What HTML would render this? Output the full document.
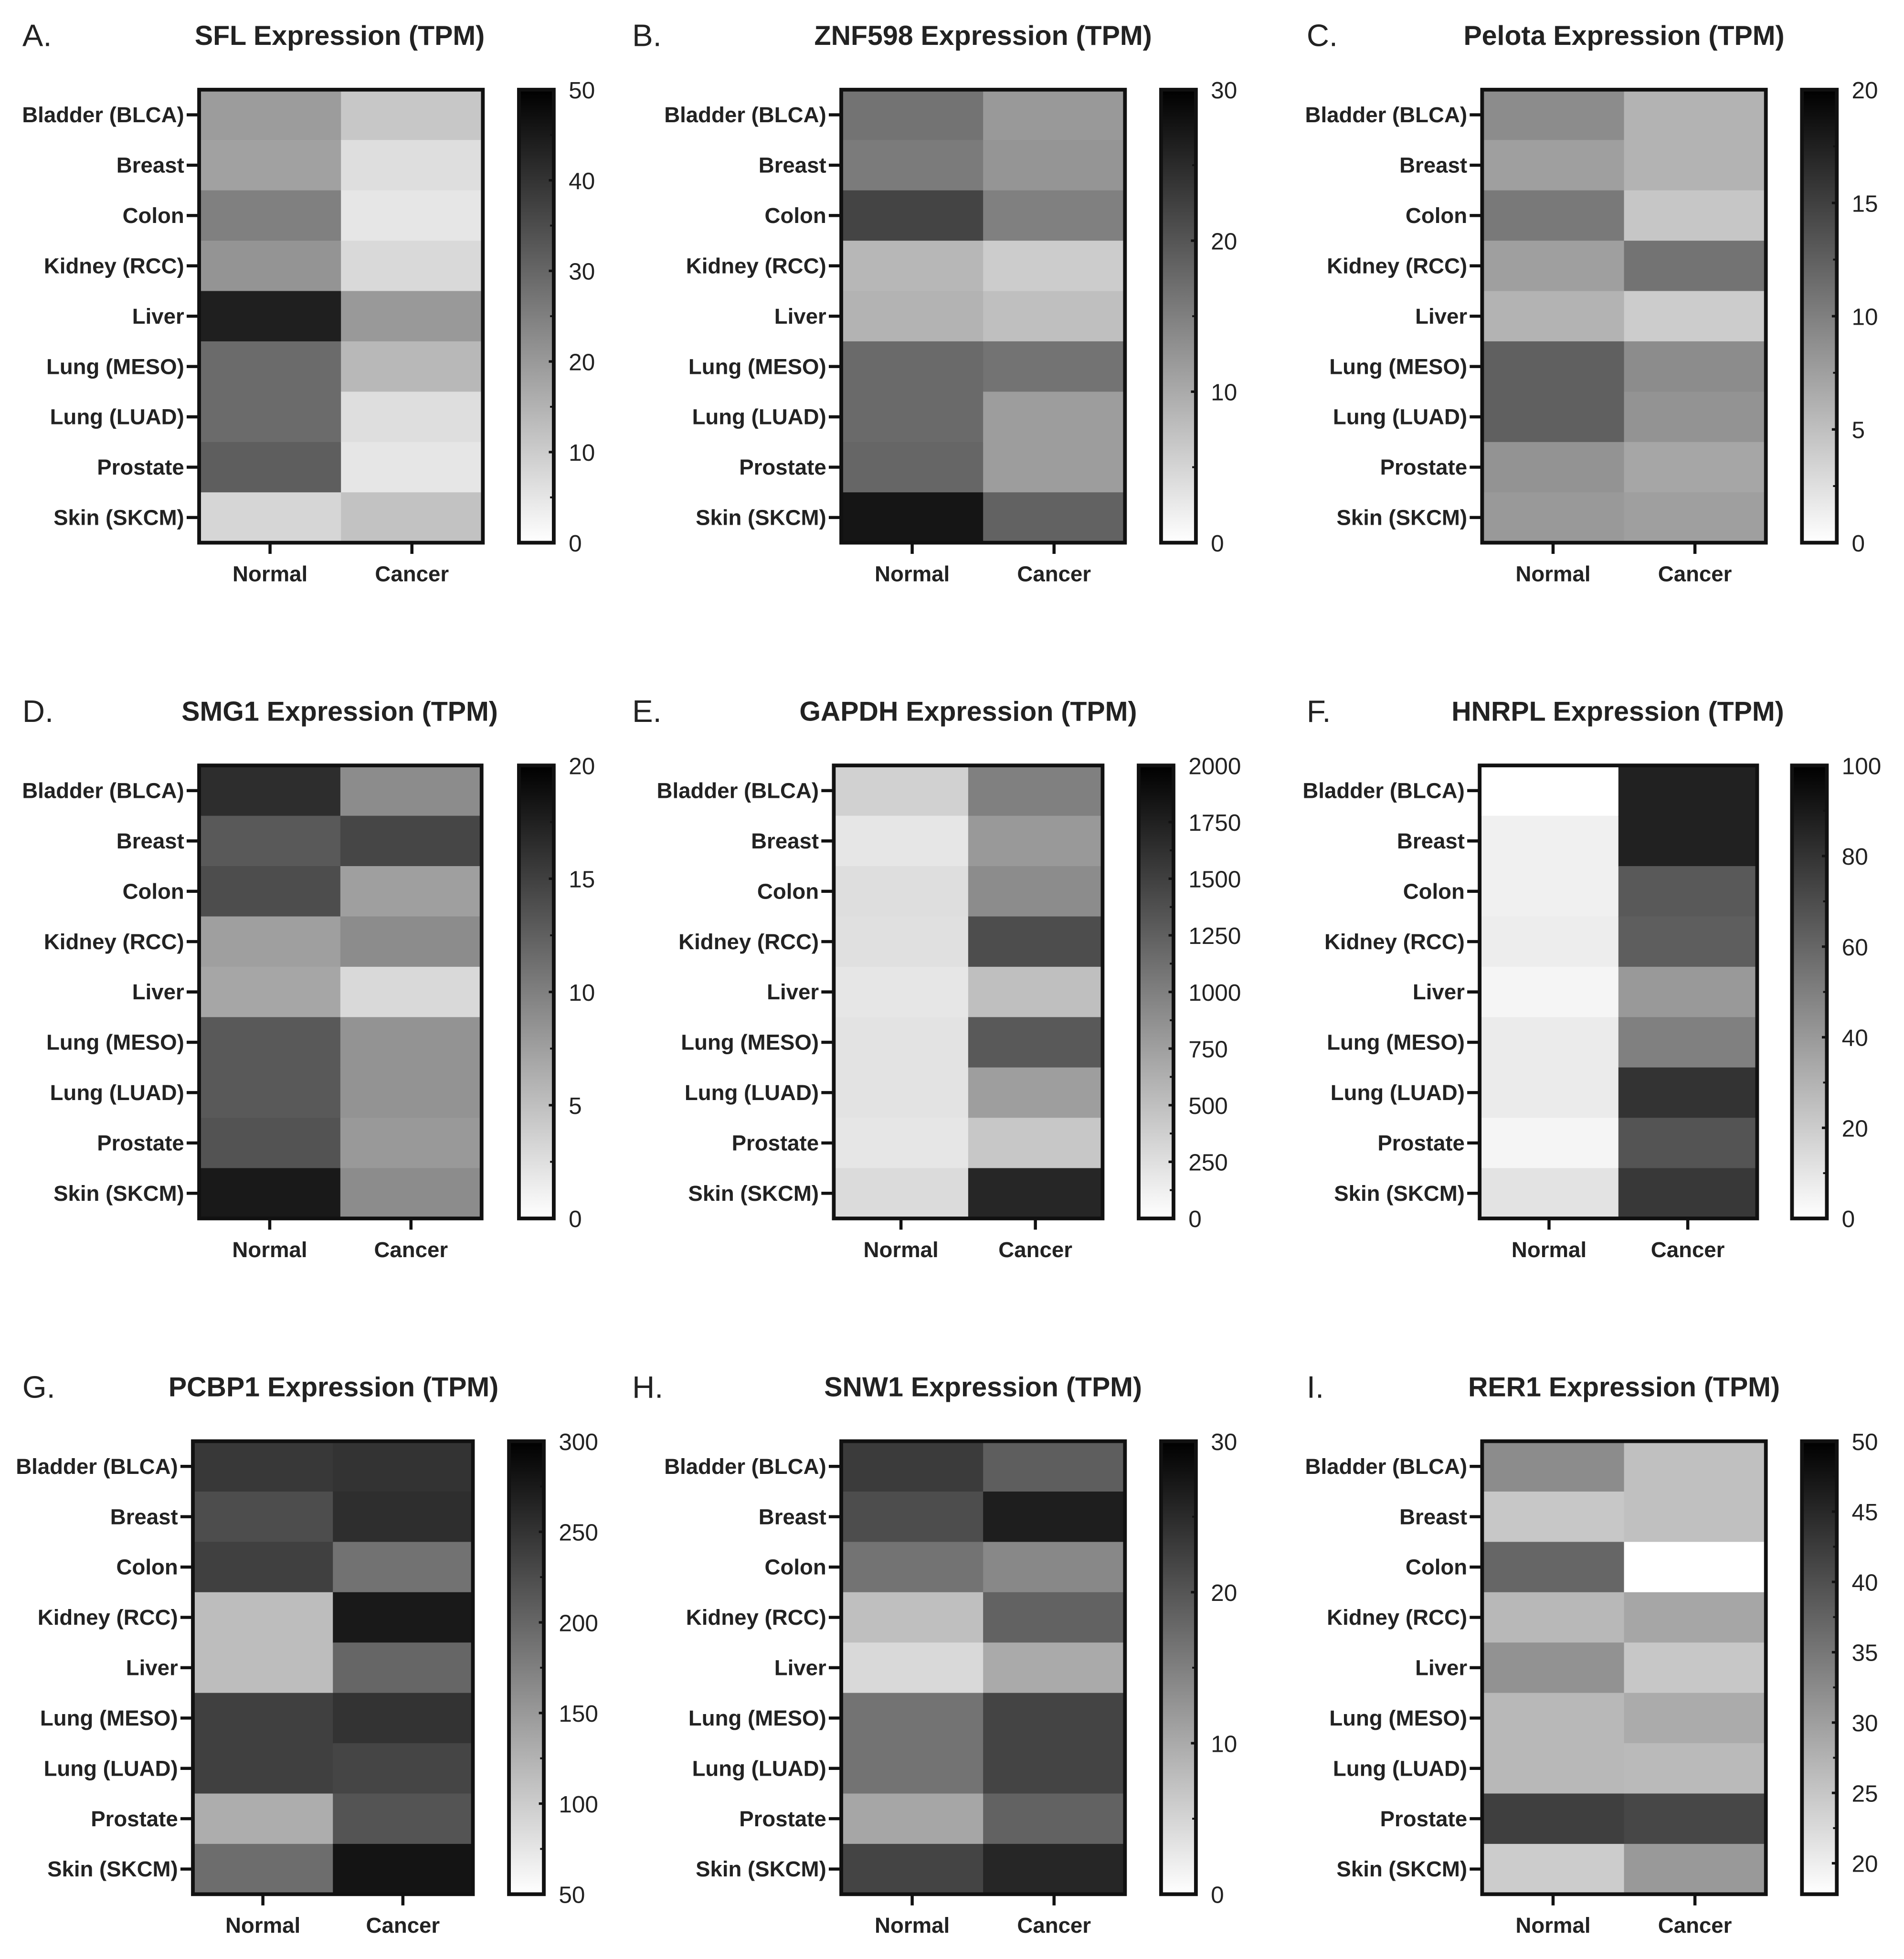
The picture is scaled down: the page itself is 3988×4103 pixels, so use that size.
<!DOCTYPE html>
<html><head><meta charset="utf-8"><style>
html,body{margin:0;padding:0;background:#fff;}
svg{display:block;}
text{font-family:"Liberation Sans",sans-serif;}
</style></head>
<body>
<svg id="fig" xmlns="http://www.w3.org/2000/svg" width="3988" height="4103" viewBox="0 0 1530 1574">
<defs><linearGradient id="cbg" x1="0" y1="1" x2="0" y2="0"><stop offset="0" stop-color="#fff"/><stop offset="1" stop-color="#000"/></linearGradient></defs>
</svg>
<script>
const categories = ["Bladder (BLCA)","Breast","Colon","Kidney (RCC)","Liver","Lung (MESO)","Lung (LUAD)","Prostate","Skin (SKCM)"];
const columns = ["Normal","Cancer"];
const titles = ["SFL Expression (TPM)","ZNF598 Expression (TPM)","Pelota Expression (TPM)","SMG1 Expression (TPM)","GAPDH Expression (TPM)","HNRPL Expression (TPM)","PCBP1 Expression (TPM)","SNW1 Expression (TPM)","RER1 Expression (TPM)"];
const letters = ["A.","B.","C.","D.","E.","F.","G.","H.","I."];
const aNormal = [19.5,18.5,25,21,44,29,29,31.5,8];
const aCancer = [11,6.5,5,7.5,20,14,6.5,5,12];
const bNormal = [16.5,15.5,22,8.5,9,17.5,17.5,18,27.5];
const bCancer = [12,12.5,15,6,7.5,16.5,11.5,11.5,18.5];
const cNormal = [9,7.5,10.5,7.5,6,12.5,12.5,8.5,8];
const cCancer = [6,6,4.5,11,4,9,8.5,7,7.5];
const dNormal = [16.5,13,14,7.5,7,13,13,13.5,18];
const dCancer = [9,14.5,7.5,9,3,8.5,8.5,8,9];
const eNormal = [360,200,260,240,200,220,220,200,280];
const eCancer = [1000,800,900,1400,500,1300,760,440,1700];
const fNormal = [0,6,6,7,4,8,8,4,11];
const fCancer = [87,87,65,63,40,50,80,67,78];
const gNormal = [245,225,237,115,115,237,237,130,193];
const gCancer = [250,255,188,275,200,250,232,218,280];
const hNormal = [23,21,16.5,7.5,4.5,16.5,16.5,10.5,22];
const hCancer = [19,26.5,14,18.5,10,22,22,18.5,25.5];
const iNormal = [32.3,24.9,37.1,26.8,31.6,26.8,26.8,42,24.2];
const iCancer = [25.8,25.8,17.8,29,24.9,28.4,26.5,41,30.7];
const scaleMin = [0,0,0,0,0,0,50,0,17.8];
const scaleMax = [50,30,20,20,2000,100,300,30,50];
const majorTicks = [[0,10,20,30,40,50],[0,10,20,30],[0,5,10,15,20],[0,5,10,15,20],[0,250,500,750,1000,1250,1500,1750,2000],[0,20,40,60,80,100],[50,100,150,200,250,300],[0,10,20,30],[20,25,30,35,40,45,50]];
const minorTicks = [[5,15,25,35,45],[5,15,25],[2.5,7.5,12.5,17.5],[2.5,7.5,12.5,17.5],[125,375,625,875,1125,1375,1625,1875],[10,30,50,70,90],[75,125,175,225,275],[5,15,25],[22.5,27.5,32.5,37.5,42.5,47.5]];
const series = [[aNormal,aCancer],[bNormal,bCancer],[cNormal,cCancer],[dNormal,dCancer],[eNormal,eCancer],[fNormal,fCancer],[gNormal,gCancer],[hNormal,hCancer],[iNormal,iCancer]];
// layout: heatmap x, width, colorbar x, top y, title center, letter x
const layout = [[160,228,417,72,273,18],[676,228,933,72,790,508],[1191,228,1448,72,1305,1050],
[160,227,417,615,273,18],[670,216,915,615,778,508],[1189,223,1440,615,1300,1050],
[155,225,409,1158,268,18],[676,228,933,1158,790,508],[1191,228,1448,1158,1305,1050]];
const H = 364, CBW = 28;
const svg = document.getElementById('fig');
const NS = 'http://www.w3.org/2000/svg';
function mk(tag, attrs, parent, txt){const e=document.createElementNS(NS,tag);for(const k in attrs)e.setAttribute(k,attrs[k]);if(txt!==undefined)e.textContent=txt;parent.appendChild(e);return e;}
series.forEach((ser,p)=>{
  const [hx,hw,cbx,y0,tc,lx]=layout[p];
  const mn=scaleMin[p], mx=scaleMax[p];
  const g=mk('g',{},svg);
  
  
  const lt=mk('text',{x:lx,y:y0-35,'font-size':25,fill:'#222'},g,letters[p]);
  
  
  const tt=mk('text',{x:tc,y:y0-36,'font-size':22,'font-weight':'bold','text-anchor':'middle',fill:'#222'},g,titles[p]);
  
  
  const rowH=H/categories.length, colW=hw/columns.length;
  const yOf=i=>y0+i*rowH;
  const xOf=j=>hx+j*colW;
  const gray=v=>{const t=Math.max(0,Math.min(1,(v-mn)/(mx-mn)));const c=Math.round(255*(1-t));return 'rgb('+c+','+c+','+c+')';};
  ser.forEach((vals,j)=>{
    vals.forEach((v,i)=>{
      const r=mk('rect',{x:xOf(j),y:yOf(i),width:colW+0.5,height:rowH+0.5,fill:gray(v)},g);
      
      
    });
  });
  const br=mk('rect',{x:hx,y:y0,width:hw,height:H,fill:'none',stroke:'#111','stroke-width':3},g);
  
  
  categories.forEach((c,i)=>{
    const cy=yOf(i)+rowH/2;
    mk('line',{x1:hx-10,x2:hx,y1:cy,y2:cy,stroke:'#111','stroke-width':2.5},g);
    const t=mk('text',{x:hx-12,y:cy+6,'font-size':17.5,'font-weight':'bold','text-anchor':'end',fill:'#222'},g,c);
    
    
  });
  columns.forEach((c,j)=>{
    const cx=xOf(j)+colW/2;
    mk('line',{x1:cx,x2:cx,y1:y0+H,y2:y0+H+9,stroke:'#111','stroke-width':2.5},g);
    const t=mk('text',{x:cx,y:y0+H+31,'font-size':17.5,'font-weight':'bold','text-anchor':'middle',fill:'#222'},g,c);
    
    
  });
  const cb=mk('rect',{x:cbx,y:y0,width:CBW,height:H,fill:'url(#cbg)',stroke:'#111','stroke-width':3},g);
  
  
  const cyOf=v=>y0+H-(v-mn)/(mx-mn)*H;
  majorTicks[p].forEach(v=>{
    const y=cyOf(v);
    mk('line',{x1:cbx+CBW-4,x2:cbx+CBW,y1:y,y2:y,stroke:'#111','stroke-width':2},g);
    const t=mk('text',{x:cbx+CBW+12,y:y+7,'font-size':19,fill:'#222'},g,String(v));
    
    
  });
  minorTicks[p].forEach(v=>{
    const y=cyOf(v);
    mk('line',{x1:cbx+CBW-3,x2:cbx+CBW,y1:y,y2:y,stroke:'#111','stroke-width':1.5},g);
  });
});
</script>
</body></html>
